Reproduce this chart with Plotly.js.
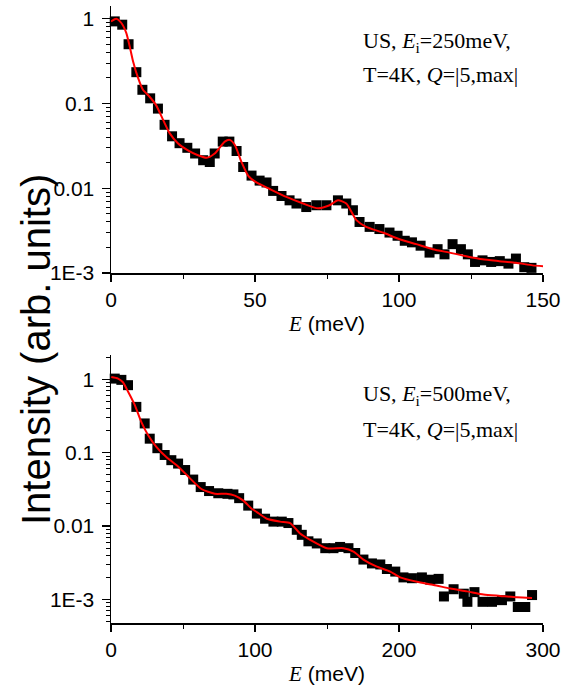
<!DOCTYPE html>
<html>
<head>
<meta charset="utf-8">
<script src="https://cdn.plot.ly/plotly-3.0.1.min.js"></script>
<style>html,body{margin:0;padding:0;background:#fff;}</style>
</head>
<body>
<div id="chart" style="width:572px;height:686px;"></div>
<script>
// ---- Top panel (Ei = 250 meV) ----
const topE = [1.3,3.9,6.1,8.8,10.9,13.6,16.3,18.6,21.2,23.8,26.5,29.2,32.0,34.3,36.0,38.8,41.1,43.6,45.9,48.8,51.6,54.0,56.3,59.2,62.0,64.4,67.8,71.3,74.8,78.8,81.7,84.0,86.3,89.8,93.2,96.7,99.5,102.0,104.5,107.5,110.6,113.4,115.8,118.6,121.5,123.9,126.4,129.0,132.0,135.0,138.0,140.6,143.5,146.0];
const topI = [0.93,0.85,0.50,0.234,0.145,0.115,0.087,0.056,0.041,0.034,0.030,0.0257,0.0214,0.0204,0.0257,0.0355,0.0355,0.0275,0.0178,0.0141,0.0123,0.0117,0.0093,0.0081,0.0072,0.0066,0.0060,0.0063,0.0063,0.0072,0.0066,0.0055,0.0040,0.0035,0.0033,0.0030,0.00275,0.0024,0.0023,0.0021,0.00174,0.00191,0.00166,0.00219,0.00191,0.00166,0.00135,0.00141,0.00135,0.00138,0.00129,0.00148,0.00117,0.00115];
const topFitE = [0,1.8,3.6,5.3,6.5,7.6,9.4,11.1,13.4,15.7,18.0,20.3,23.2,26.7,30.2,33.2,36.0,39.5,41.2,43.0,45.3,47.6,50.5,55.1,60.9,66.7,71.9,75.9,78.8,81.7,85.2,88.6,94.4,100.2,106.0,111.7,117.5,123.3,129.0,134.8,140.6,146.4,150];
const topFitI = [0.93,1.0,0.89,0.68,0.47,0.32,0.20,0.145,0.12,0.095,0.065,0.045,0.034,0.028,0.0245,0.0229,0.0257,0.0355,0.0372,0.0324,0.0204,0.0141,0.0117,0.0098,0.0079,0.0066,0.0058,0.0063,0.0072,0.0066,0.0042,0.0035,0.0030,0.0025,0.00219,0.00191,0.00174,0.00158,0.00145,0.00138,0.00132,0.00123,0.0012];

// ---- Bottom panel (Ei = 500 meV) ----
const botE = [2.6,7.2,11.8,17.6,23.4,26.9,32.2,37.3,41.9,46.6,51.5,57.1,62.3,68.1,74.5,80.9,85.0,89.0,95.3,101.3,107.0,112.8,118.6,123.2,129.0,132.5,137.1,142.9,148.8,154.5,159.1,164.9,169.6,175.3,181.2,187.0,191.6,197.4,203.1,209.0,215.9,221.7,227.5,231.2,237.9,245.0,247.5,252.4,258.0,264.6,271.5,277.3,282.5,287.7,292.4];
const botI = [1.02,0.98,0.83,0.42,0.25,0.155,0.115,0.093,0.079,0.071,0.058,0.043,0.034,0.030,0.028,0.0275,0.027,0.024,0.019,0.0148,0.0126,0.0115,0.0115,0.011,0.0089,0.0076,0.0062,0.0058,0.0050,0.0050,0.0052,0.0050,0.0043,0.0035,0.0031,0.0030,0.0026,0.0024,0.0020,0.00195,0.0020,0.00186,0.00191,0.0011,0.00138,0.0012,0.00093,0.00126,0.00093,0.00093,0.00098,0.0011,0.00079,0.00079,0.00115];
const botFitE = [0.2,4.9,8.3,11.8,16.4,21.1,25.7,31.5,38.4,46.6,54.7,62.8,72.1,80.1,86.0,91.7,97.5,101.3,108.2,117.4,124.4,131.3,138.3,149.9,161.4,168.4,175.3,184.6,193.9,200.8,212.4,224.0,235.6,247.2,258.7,270.3,281.9,292.4];
const botFitI = [1.07,1.02,0.91,0.68,0.45,0.26,0.174,0.12,0.087,0.065,0.045,0.032,0.0275,0.0275,0.026,0.0224,0.0174,0.0155,0.0126,0.0115,0.011,0.0079,0.0065,0.0050,0.0050,0.0045,0.0035,0.0028,0.0024,0.0020,0.00174,0.00158,0.00141,0.00129,0.00117,0.00112,0.00107,0.00105];

// ---- Tick labels ----
const yTickVals = [0.001, 0.01, 0.1, 1];
const yTickText = ["1E-3", "0.01", "0.1", "1"];

const yMinor = [];
for (let k = -4; k <= 0; k++) {
  for (let m = 2; m <= 9; m++) yMinor.push(m * Math.pow(10, k));
}

const W = 572, H = 686, ML = 111, MR = 29, MT = 5, MB = 63;
const PW = W - ML - MR, PH = H - MT - MB;
const px = x => (x - ML) / PW;
const py = y => (H - MB - y) / PH;

const tickFont = {family: 'Liberation Sans, Arial, sans-serif', size: 21, color: '#000'};

const scatterStyle = {mode: 'markers', marker: {symbol: 'square', size: 10, color: '#000'}, showlegend: false, cliponaxis: false};
const lineStyle = {mode: 'lines', line: {color: '#ff0000', width: 2, shape: 'spline', smoothing: 0.6}, showlegend: false};

const data = [
  Object.assign({x: topE, y: topI, xaxis: 'x', yaxis: 'y'}, scatterStyle),
  Object.assign({x: topFitE, y: topFitI, xaxis: 'x', yaxis: 'y'}, lineStyle),
  Object.assign({x: botE, y: botI, xaxis: 'x2', yaxis: 'y2'}, scatterStyle),
  Object.assign({x: botFitE, y: botFitI, xaxis: 'x2', yaxis: 'y2'}, lineStyle)
];

function yAxis(domain, range) {
  return {
    type: 'log', domain: domain, range: range,
    tickmode: 'array', tickvals: yTickVals, ticktext: yTickText,
    ticks: 'outside', ticklen: 8, tickwidth: 1.2, tickcolor: '#000',
    minor: {tickmode: 'array', tickvals: yMinor, ticks: 'outside', ticklen: 4, tickwidth: 1, tickcolor: '#000'},
    showline: true, linecolor: '#000', linewidth: 1.5,
    showgrid: false, zeroline: false, tickfont: tickFont, ticklabelstandoff: 3
  };
}
function xAxis(anchor, range, dtick) {
  return {
    anchor: anchor, range: range, dtick: dtick, tick0: 0,
    ticks: 'outside', ticklen: 7, tickwidth: 1.2, tickcolor: '#000',
    minor: {dtick: dtick / 2, ticks: 'outside', ticklen: 4, tickwidth: 1, tickcolor: '#000'},
    showline: true, linecolor: '#000', linewidth: 1.5,
    showgrid: false, zeroline: false, tickfont: tickFont,
    title: {text: '<span style="font-family:Liberation Serif"><i>E</i></span> (meV)', font: {family: 'Liberation Sans, Arial, sans-serif', size: 21, color: '#000'}, standoff: 6}
  };
}

const annFont = {family: 'Liberation Serif, Times New Roman, serif', size: 22, color: '#000'};
function ann(x, y, text) {
  return {xref: 'paper', yref: 'paper', x: px(x), y: py(y), xanchor: 'left', yanchor: 'middle', text: text, showarrow: false, font: annFont};
}

const layout = {
  width: W, height: H,
  margin: {l: ML, r: MR, t: MT, b: MB},
  paper_bgcolor: '#fff', plot_bgcolor: '#fff',
  xaxis: xAxis('y', [0, 150], 50),
  yaxis: yAxis([py(273), py(6)], [-3, 0.15]),
  xaxis2: xAxis('y2', [0, 300], 100),
  yaxis2: yAxis([0, py(355)], [-3.32, 0.33]),
  annotations: [
    ann(361, 42, 'US, <i>E</i><sub>i</sub>=250meV,'),
    ann(361, 75, 'T=4K, <i>Q</i>=|5,max|'),
    ann(361, 395, 'US, <i>E</i><sub>i</sub>=500meV,'),
    ann(361, 429, 'T=4K, <i>Q</i>=|5,max|'),
    {xref: 'paper', yref: 'paper', x: px(36), y: py(350), xanchor: 'center', yanchor: 'middle',
     text: 'Intensity (arb. units)', textangle: -90, showarrow: false,
     font: {family: 'Liberation Sans, Arial, sans-serif', size: 40, color: '#000'}}
  ]
};

Plotly.newPlot('chart', data, layout, {displayModeBar: false, staticPlot: true});
</script>
</body>
</html>
